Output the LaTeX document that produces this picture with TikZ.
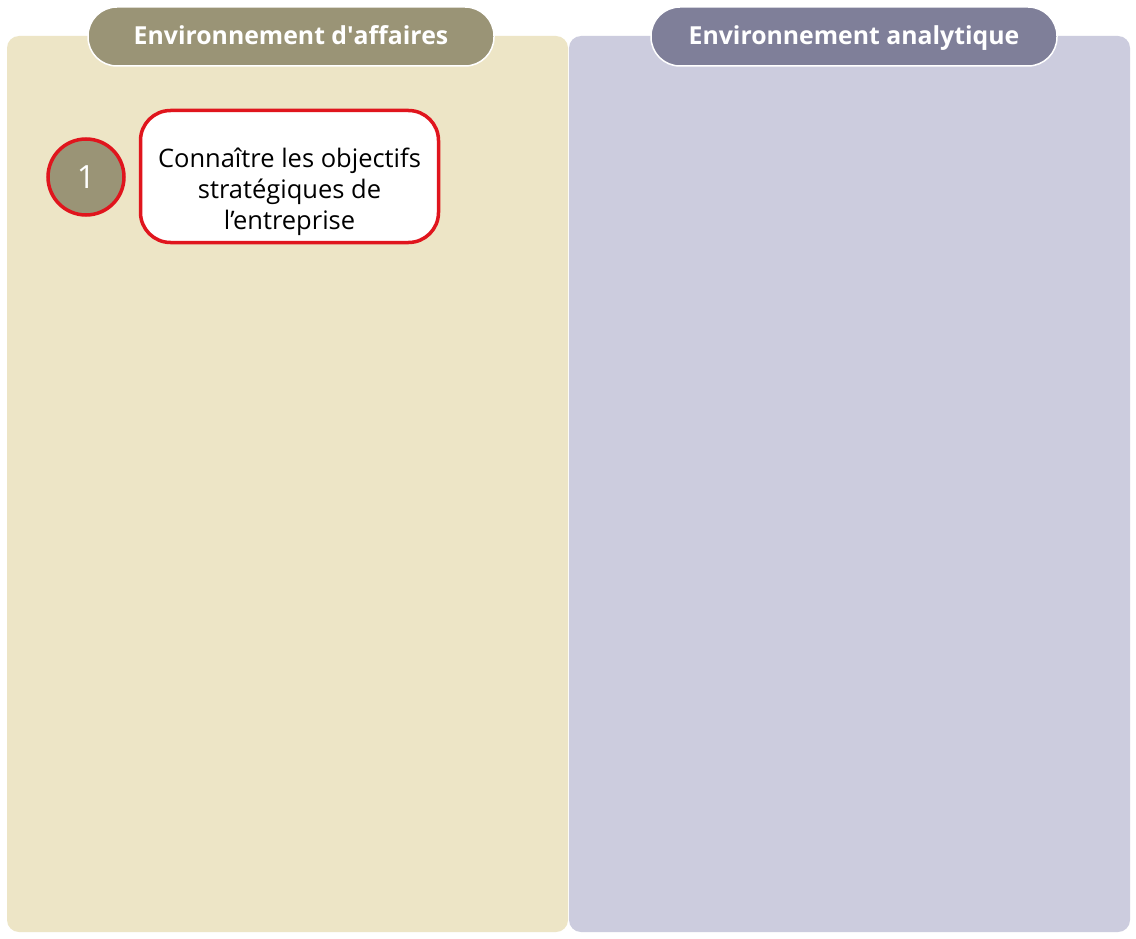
\documentclass[tikz,border=0pt]{standalone}
\usepackage{fontspec}
\setmainfont{Open Sans}
\usepackage{xcolor}
\usetikzlibrary{shapes.geometric, positioning}

\definecolor{affairesbg}{HTML}{EDE5C6}
\definecolor{analytiquebg}{HTML}{CCCCDE}
\definecolor{affaireshead}{HTML}{9A9476}
\definecolor{analytiquehead}{HTML}{7F7F99}
\definecolor{stepred}{HTML}{E0151D}

\begin{document}
\begin{tikzpicture}[
    x=1pt, y=-1pt,
    panel/.style={rectangle, rounded corners=12pt, minimum width=561pt, minimum height=896pt, inner sep=0pt},
    header/.style={rectangle, rounded corners=29pt, draw=white, line width=1.5pt, minimum width=406pt, minimum height=59pt, text height=18pt, text depth=1pt, text=white, font=\fontsize{24.8}{30}\selectfont\bfseries},
    stepnum/.style={circle, draw=stepred, line width=3.5pt, fill=affaireshead, minimum size=76pt, inner sep=0pt, text=white, font=\fontsize{32}{36}\selectfont},
    stepbox/.style={rectangle, rounded corners=30pt, draw=stepred, line width=3.5pt, fill=white, minimum width=298pt, minimum height=132pt},
    steptext/.style={align=center, font=\fontsize{25.5}{31}\selectfont}
]
    \useasboundingbox (0,0) rectangle (1136,939);
    \fill[white] (0,0) rectangle (1136,939);

    % Panels
    \node[panel, fill=affairesbg] (affaires) at (287.5,484) {};
    \node[panel, fill=analytiquebg] (analytique) at (849.5,484) {};

    % Headers
    \node[header, fill=affaireshead] (head_affaires) at (291,36.5) {Environnement d\textquotesingle affaires};
    \node[header, fill=analytiquehead] (head_analytique) at (854,36.5) {Environnement analytique};

    % Step 1
    \node[stepnum] (num1) at (86,177) {1};
    \node[stepbox] (box1) at (289.5,176.5) {};
    \node[steptext] (step1) at (289.5,192) {Connaître les objectifs\\stratégiques de\\l’entreprise};
\end{tikzpicture}
\end{document}
